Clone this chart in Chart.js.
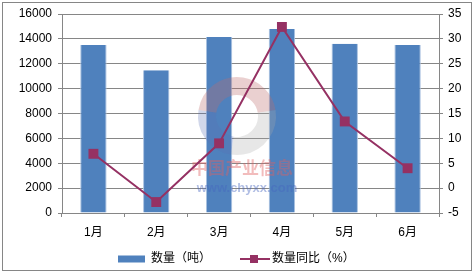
<!DOCTYPE html>
<html>
<head>
<meta charset="utf-8">
<script src="https://cdn.jsdelivr.net/npm/chart.js@4"></script>
<style>
html,body{margin:0;padding:0;background:#fff;}
#wrap{position:relative;width:474px;height:273px;}
canvas{display:block;}
</style>
</head>
<body>
<div id="wrap"><canvas id="c" width="474" height="273"></canvas></div>
<script>
const categories = ['1月', '2月', '3月', '4月', '5月', '6月'];
const quantity = [13500, 11470, 14150, 14790, 13610, 13510];
const yoyPercent = [6.9, -2.8, 9.0, 32.4, 13.4, 4.0];
const seriesNames = ['数量（吨）', '数量同比（%）'];
const watermarkTexts = ['中国产业信息', 'www.chyxx.com'];

const FONT = "'Liberation Sans', 'Noto Sans CJK SC', sans-serif";
const GRID = '#868686';
const BAR = '#4F81BD';
const LINE = '#953163';

function barSymbol() {
  const c = document.createElement('canvas');
  c.width = 32; c.height = 9;
  const x = c.getContext('2d');
  x.fillStyle = BAR;
  x.fillRect(5, 1, 27, 7);
  return c;
}
function lineSymbol() {
  const c = document.createElement('canvas');
  c.width = 40; c.height = 10;
  const x = c.getContext('2d');
  x.strokeStyle = LINE; x.lineWidth = 2;
  x.beginPath(); x.moveTo(10, 5); x.lineTo(40, 5); x.stroke();
  x.fillStyle = LINE;
  x.fillRect(20, 1, 8, 8);
  return c;
}
const symbols = [barSymbol(), lineSymbol()];

const frame = {
  id: 'frame',
  afterDraw(chart) {
    const ctx = chart.ctx;
    ctx.save();
    ctx.strokeStyle = GRID;
    ctx.lineWidth = 1;
    ctx.strokeRect(2.5, 2.5, 469, 268);
    ctx.restore();
  }
};

const watermark = {
  id: 'watermark',
  afterDatasetDraw(chart, args) {
    if (args.index !== 0) return;
    const ctx = chart.ctx;
    ctx.save();
    const cx = 237, cy = 116, r = 39;
    ctx.lineWidth = 18;
    ctx.strokeStyle = 'rgba(190,110,110,0.32)';
    ctx.beginPath(); ctx.arc(cx, cy, r - 9, Math.PI * 1.05, Math.PI * 1.95); ctx.stroke();
    ctx.strokeStyle = 'rgba(90,110,180,0.28)';
    ctx.beginPath(); ctx.arc(cx, cy, r - 9, Math.PI * 0.55, Math.PI * 1.05); ctx.stroke();
    ctx.strokeStyle = 'rgba(170,170,170,0.28)';
    ctx.beginPath(); ctx.arc(cx, cy, r - 9, Math.PI * -0.05, Math.PI * 0.55); ctx.stroke();
    ctx.textAlign = 'center';
    ctx.textBaseline = 'middle';
    ctx.fillStyle = 'rgba(225,95,95,0.42)';
    ctx.font = "bold 17px 'Noto Sans CJK SC', sans-serif";
    ctx.fillText(watermarkTexts[0], 242, 168);
    ctx.fillStyle = 'rgba(70,100,190,0.42)';
    ctx.font = "bold 13px 'Liberation Sans', sans-serif";
    ctx.fillText(watermarkTexts[1], 247, 188);
    ctx.restore();
  }
};

const legendShift = {
  id: 'legendShift',
  afterLayout(chart) {
    const lg = chart.legend;
    if (!lg || !lg.lineWidths) return;
    const P = lg.options.labels.padding;
    const x1 = (lg.left + P + lg.right - lg.lineWidths[0]) / 2;
    const dx = 113 - x1;
    lg.left += dx; lg.right += dx;
    lg.top = 259 - 6 - P;
    lg.bottom = 273;
  }
};

new Chart(document.getElementById('c'), {
  type: 'bar',
  data: {
    labels: categories,
    datasets: [
      {
        type: 'bar',
        label: seriesNames[0],
        data: quantity,
        yAxisID: 'y',
        backgroundColor: BAR,
        borderColor: '#A9C1E0',
        borderWidth: {left: 1, right: 1, top: 0, bottom: 0},
        categoryPercentage: 1,
        barPercentage: 0.42,
        order: 2
      },
      {
        type: 'line',
        label: seriesNames[1],
        data: yoyPercent,
        yAxisID: 'y1',
        borderColor: LINE,
        backgroundColor: LINE,
        borderWidth: 2,
        pointStyle: 'rect',
        pointRadius: 7,
        pointBorderWidth: 0,
        pointBackgroundColor: LINE,
        tension: 0,
        order: 1
      }
    ]
  },
  options: {
    responsive: false,
    animation: false,
    devicePixelRatio: 1,
    layout: {padding: {left: 0, right: 0, top: 14, bottom: 0}},
    plugins: {
      tooltip: {enabled: false},
      legend: {
        position: 'bottom',
        maxHeight: 30,
        labels: {
          usePointStyle: true,
          pointStyleWidth: 32,
          padding: 23,
          color: '#000',
          font: {family: FONT, size: 12},
          generateLabels(chart) {
            return chart.data.datasets.map((ds, i) => ({
              text: ds.label,
              pointStyle: symbols[i],
              fillStyle: 'transparent',
              strokeStyle: 'transparent',
              lineWidth: 0,
              fontColor: '#000',
              hidden: false,
              datasetIndex: i
            }));
          }
        }
      }
    },
    scales: {
      x: {
        grid: {display: true, offset: true, drawOnChartArea: false, color: GRID, tickLength: 4, tickColor: GRID},
        border: {display: true, color: GRID},
        ticks: {color: '#000', font: {family: FONT, size: 12}, padding: 8, maxRotation: 0},
        afterFit(s) { s.height = 30; }
      },
      y: {
        position: 'left',
        min: 0, max: 16000,
        ticks: {stepSize: 2000, color: '#000', font: {family: FONT, size: 12}, padding: 6, callback: v => String(v)},
        grid: {color: GRID, tickLength: 4, tickColor: GRID},
        border: {display: true, color: GRID},
        afterFit(s) { s.width = 62; }
      },
      y1: {
        position: 'right',
        min: -5, max: 35,
        ticks: {stepSize: 5, color: '#000', font: {family: FONT, size: 12}, padding: 5, callback: v => String(v)},
        grid: {drawOnChartArea: false, tickLength: 4, color: GRID, tickColor: GRID},
        border: {display: true, color: GRID},
        afterFit(s) { s.width = 35; }
      }
    }
  },
  plugins: [watermark, legendShift, frame]
});
</script>
</body>
</html>
